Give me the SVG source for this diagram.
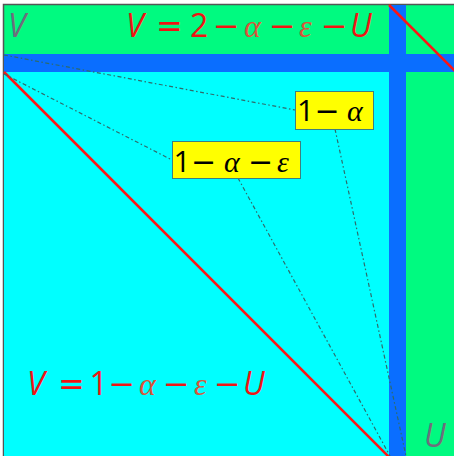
<svg xmlns="http://www.w3.org/2000/svg" width="454" height="456" viewBox="0 0 454 456">
<style>
.red{stroke:#ff1414;stroke-width:2.5;fill:none}
.conn{stroke:#2f6b6b;stroke-width:1.2;fill:none;stroke-dasharray:4 2.5 1.5 2.5}
.lbl{fill:#ffff00;stroke:#3d7f7f;stroke-width:1}
.t{font-family:"Open Sans","DejaVu Sans",sans-serif}
.it{font-family:"Open Sans","DejaVu Sans",sans-serif;font-style:italic}
.op{font-family:"DejaVu Sans",sans-serif}
.gr{font-family:"Liberation Serif","DejaVu Serif",serif;font-style:italic;font-weight:normal}
.f{font-size:32px;fill:#f01414}
.fg{fill:#d8553a}
.l{font-size:30px;fill:#000}
.ax{font-size:32px;fill:#6e6e7c;font-family:"Open Sans","DejaVu Sans",sans-serif;font-style:italic}
</style>
<rect x="0" y="0" width="454" height="456" fill="#ffffff"/>
<g id="regions">
<rect x="3.5" y="4.5" width="460" height="460" fill="#00fa80" stroke="#555555" stroke-width="1.5"/>
<rect x="4" y="54" width="450" height="18" fill="#0a6eff"/>
<rect x="389" y="5" width="17" height="451" fill="#0a6eff"/>
<rect x="4" y="72" width="385" height="384" fill="#00ffff"/>
</g>
<g id="boundaries">
<line class="red" x1="389" y1="5" x2="460" y2="76"/>
<line class="red" x1="4" y1="72" x2="390" y2="458"/>
</g>
<g id="connectors">
<line class="conn" x1="4" y1="55" x2="295" y2="110"/>
<line class="conn" x1="335" y1="129" x2="406" y2="456"/>
<line class="conn" x1="4" y1="74" x2="172" y2="160"/>
<line class="conn" x1="238" y1="178" x2="390" y2="456"/>
</g>
<g id="node-1-alpha">
<rect class="lbl" x="295.5" y="91.5" width="78" height="38"/>
<text y="121" class="l"><tspan class="t" x="297">1</tspan><tspan class="op" x="314.5">−</tspan><tspan class="gr" x="347">α</tspan></text>
</g>
<g id="node-1-alpha-eps">
<rect class="lbl" x="172.5" y="141.5" width="128" height="37"/>
<text y="172" class="l"><tspan class="t" x="173.5">1</tspan><tspan class="op" x="191">−</tspan><tspan class="gr" x="224">α</tspan><tspan class="op" x="248">−</tspan><tspan class="gr" x="277">ε</tspan></text>
</g>
<g id="formula-top">
<text y="37" class="f"><tspan class="it" x="126">V</tspan><tspan class="op" x="156">=</tspan><tspan class="t" x="190">2</tspan><tspan class="op" x="213">−</tspan><tspan class="gr fg" x="244">α</tspan><tspan class="op" x="269">−</tspan><tspan class="gr fg" x="299">ε</tspan><tspan class="op" x="321">−</tspan><tspan class="it" x="350">U</tspan></text>
</g>
<g id="formula-bottom">
<text y="395" class="f"><tspan class="it" x="27">V</tspan><tspan class="op" x="58">=</tspan><tspan class="t" x="89.5">1</tspan><tspan class="op" x="108.5">−</tspan><tspan class="gr fg" x="139">α</tspan><tspan class="op" x="163">−</tspan><tspan class="gr fg" x="194">ε</tspan><tspan class="op" x="214">−</tspan><tspan class="it" x="243">U</tspan></text>
</g>
<g id="axis-labels">
<text class="ax" x="8" y="37">V</text>
<text class="ax" x="424" y="447">U</text>
</g>
</svg>
